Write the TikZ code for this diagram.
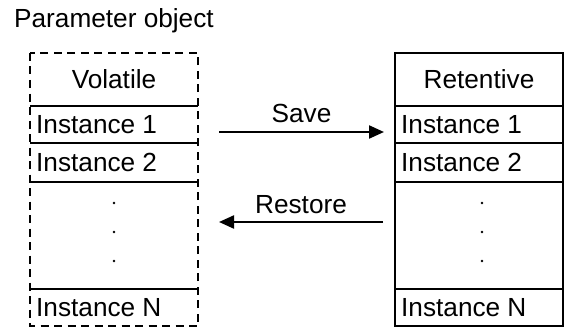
\documentclass[tikz,border=0pt]{standalone}
\usepackage{fontspec}
\setmainfont{Liberation Sans}
\usetikzlibrary{arrows.meta}
\begin{document}
\begin{tikzpicture}[x=1pt,y=-1pt,
  lbl/.style={inner sep=0pt,font=\fontsize{26.2}{29}\selectfont},
  inst/.style={lbl,anchor=west},
  boxdash/.style={draw,line width=2.6pt,dash pattern=on 8pt off 5.5pt},
  boxsolid/.style={draw,line width=2.6pt},
  sep/.style={line width=2pt},
  flow/.style={line width=2.2pt,-{Triangle[length=15pt,width=13pt]}},
  dot/.style={circle,fill,inner sep=0pt,minimum size=2.6pt}]
\useasboundingbox (0,0) rectangle (565,329);
\node[lbl,anchor=west] (title) at (14,21) {Parameter object};
% volatile box
\draw[sep] (30,106) -- (198,106);
\draw[sep] (30,143) -- (198,143);
\draw[sep] (30,182) -- (198,182);
\draw[sep] (30,289) -- (198,289);
\draw[boxdash] (30,53) rectangle (198,326);
\node[lbl] (vol) at (114,79) {Volatile};
\node[inst] (v1) at (36,125) {Instance 1};
\node[inst] (v2) at (36,162) {Instance 2};
\node[inst] (vn) at (36,308) {Instance N};
\node[dot] (vd1) at (114,203) {};
\node[dot] (vd2) at (114,232) {};
\node[dot] (vd3) at (114,261) {};
% retentive box
\draw[sep] (395,106) -- (563,106);
\draw[sep] (395,143) -- (563,143);
\draw[sep] (395,182) -- (563,182);
\draw[sep] (395,289) -- (563,289);
\draw[boxsolid] (395,53) rectangle (563,326);
\node[lbl] (ret) at (479,79) {Retentive};
\node[inst] (r1) at (401,125) {Instance 1};
\node[inst] (r2) at (401,162) {Instance 2};
\node[inst] (rn) at (401,308) {Instance N};
\node[dot] (rd1) at (482,203) {};
\node[dot] (rd2) at (482,232) {};
\node[dot] (rd3) at (482,261) {};
% arrows
\coordinate (s0) at (219,132);
\coordinate (s1) at (384,132);
\coordinate (r0) at (383,222);
\coordinate (r1e) at (219,222);
\draw[flow] (s0) -- node[lbl,above=8pt] (save) {Save} (s1);
\draw[flow] (r0) -- node[lbl,above=7pt] (restore) {Restore} (r1e);
\end{tikzpicture}
\end{document}
